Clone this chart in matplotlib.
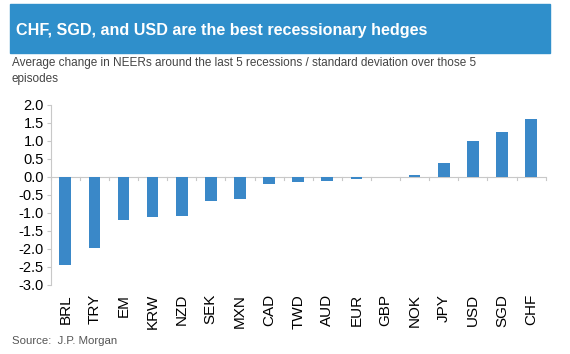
import matplotlib
matplotlib.use("Agg")
import matplotlib.pyplot as plt
from matplotlib.patches import Rectangle

categories = ["BRL", "TRY", "EM", "KRW", "NZD", "SEK", "MXN", "CAD", "TWD",
              "AUD", "EUR", "GBP", "NOK", "JPY", "USD", "SGD", "CHF"]
values = [-2.44, -1.97, -1.19, -1.10, -1.09, -0.68, -0.60, -0.19, -0.14,
          -0.11, -0.06, 0.0, 0.06, 0.40, 1.00, 1.26, 1.62]
yticks = [2.0, 1.5, 1.0, 0.5, 0.0, -0.5, -1.0, -1.5, -2.0, -2.5, -3.0]

W, H = 570, 354
fig = plt.figure(figsize=(W / 100, H / 100), dpi=100)
plt.rcParams['font.family'] = ['Liberation Sans', 'DejaVu Sans']

# header banner
fig.patches.append(Rectangle((10 / W, 1 - 53 / H), 540 / W, 49 / H,
                             transform=fig.transFigure, color="#2F8FCB", zorder=0))
fig.text(16 / W, 1 - 30 / H, "CHF, SGD, and USD are the best recessionary hedges",
         color="white", fontsize=11.6, fontweight="bold", va="center", ha="left")
fig.text(12 / W, 1 - 63 / H,
         "Average change in NEERs around the last 5 recessions / standard deviation over those 5",
         color="#444444", fontsize=8.5, va="center", ha="left")
fig.text(12 / W, 1 - 79 / H, "episodes", color="#444444", fontsize=8.5, va="center", ha="left")
fig.text(12 / W, 1 - 341 / H, "Source:  J.P. Morgan", color="#555555", fontsize=8.2,
         va="center", ha="left")

ax = fig.add_axes([50.7 / W, 1 - 285 / H, 495 / W, 180 / H])
x = list(range(len(categories)))
ax.bar(x, values, width=0.4, color="#3A88C8", zorder=3)
ax.set_xlim(-0.5, len(categories) - 0.5)
ax.set_ylim(-3.0, 2.0)
ax.set_yticks(yticks)
ax.set_yticklabels([f"{v:.1f}" for v in yticks], fontsize=10.5)
for s in ["top", "right", "bottom"]:
    ax.spines[s].set_visible(False)
ax.spines["left"].set_color("#C8C8C8")
ax.spines["left"].set_linewidth(0.8)
ax.tick_params(axis="y", length=3, color="#C8C8C8", pad=2, labelcolor="black")
# zero line
ax.axhline(0, color="#C8C8C8", linewidth=0.8, zorder=2)
# x ticks at category boundaries on zero line
ax.set_xticks(x)
ax.set_xticklabels([])
ax.tick_params(axis="x", length=0)
for b in range(len(categories) + 1):
    ax.plot([b - 0.5, b - 0.5], [0, -0.08], color="#C8C8C8", linewidth=0.8,
            zorder=2, clip_on=False)
for i, c in enumerate(categories):
    ax.text(i, -3.25, c, rotation=90, ha="center", va="top", fontsize=11)

fig.savefig("out.png", dpi=100)
